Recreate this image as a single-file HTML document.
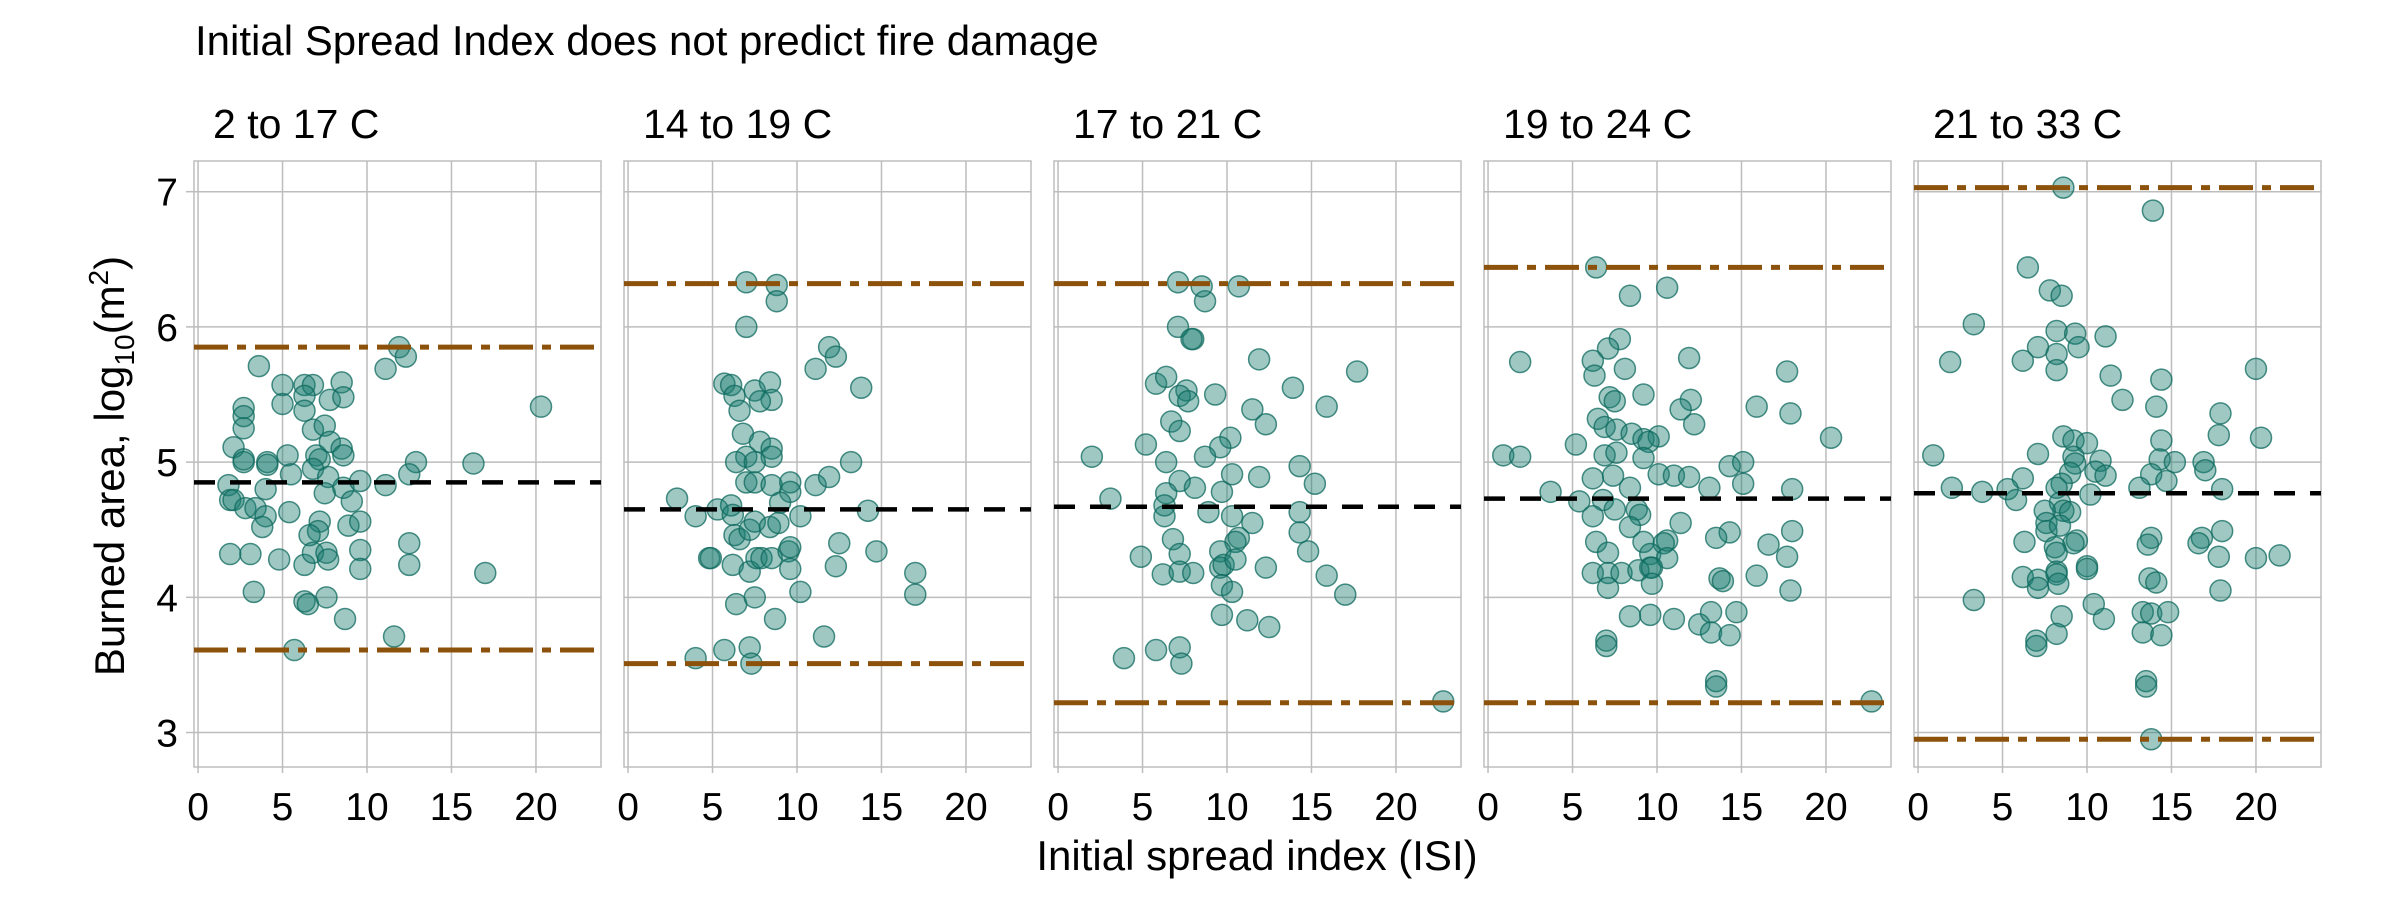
<!DOCTYPE html>
<html><head><meta charset="utf-8"><style>
html,body{margin:0;padding:0;background:#fff;}
svg{display:block;font-family:"Liberation Sans",sans-serif;}
</style></head><body>
<svg id="chart" width="2400" height="900" viewBox="0 0 2400 900" xmlns="http://www.w3.org/2000/svg">
<text x="195" y="55" font-size="42" fill="#000">Initial Spread Index does not predict fire damage</text>
<g id="panels"></g>
<text x="1257" y="870" font-size="42" text-anchor="middle">Initial spread index (ISI)</text>
<text font-size="42" text-anchor="middle" transform="translate(124,466) rotate(-90)">Burned area, log<tspan font-size="28" dy="10">10</tspan><tspan dy="-10">(m</tspan><tspan font-size="28" dy="-16">2</tspan><tspan dy="16">)</tspan></text>
</svg>
<script>
const facetLabels = ["2 to 17 C","14 to 19 C","17 to 21 C","19 to 24 C","21 to 33 C"];
const xTicks = [0,5,10,15,20];
const yTicks = [3,4,5,6,7];
const meanVals = [4.85,4.65,4.67,4.73,4.77];
const upperVals = [5.85,6.32,6.32,6.44,7.03];
const lowerVals = [3.61,3.51,3.22,3.22,2.95];
const pts1 = [[3.6,5.71],[5.0,5.57],[5.0,5.43],[6.3,5.57],[6.8,5.57],[6.3,5.49],[6.3,5.38],[8.5,5.59],[7.8,5.46],[8.6,5.48],[2.7,5.4],[2.7,5.34],[2.7,5.25],[2.1,5.11],[2.7,5.02],[2.7,5.0],[4.1,5.0],[4.1,4.98],[5.3,5.05],[5.5,4.91],[6.8,5.24],[7.5,5.27],[7.0,5.05],[7.2,5.02],[7.8,5.15],[8.5,5.1],[8.6,5.05],[6.8,4.95],[7.7,4.89],[7.5,4.77],[8.6,4.81],[9.6,4.86],[9.1,4.71],[11.1,4.83],[12.9,5.0],[12.5,4.91],[1.8,4.83],[1.9,4.72],[2.1,4.72],[2.8,4.66],[3.4,4.66],[4.0,4.6],[3.8,4.52],[4.0,4.8],[5.4,4.63],[7.2,4.56],[7.1,4.49],[6.6,4.46],[8.9,4.53],[9.6,4.56],[1.9,4.32],[3.1,4.32],[4.8,4.28],[6.3,4.24],[6.8,4.33],[7.6,4.33],[7.7,4.28],[9.6,4.35],[9.6,4.21],[12.5,4.4],[12.5,4.24],[3.3,4.04],[6.3,3.97],[6.5,3.95],[7.6,4.0],[8.7,3.84],[5.7,3.61],[11.6,3.71],[11.1,5.69],[11.9,5.85],[12.3,5.78],[16.3,4.99],[17.0,4.18],[20.3,5.41]];
const pts2 = [[7.0,6.33],[8.8,6.31],[8.8,6.19],[7.0,6.0],[5.7,5.58],[6.1,5.57],[6.3,5.49],[7.5,5.53],[8.4,5.59],[8.5,5.46],[7.8,5.45],[6.6,5.38],[6.8,5.21],[7.8,5.15],[8.5,5.1],[8.5,5.04],[7.0,5.04],[6.4,5.0],[7.5,5.0],[7.0,4.85],[7.5,4.85],[8.5,4.83],[9.6,4.85],[9.6,4.78],[9.0,4.7],[11.1,4.83],[11.9,4.89],[13.2,5.0],[11.1,5.69],[11.9,5.85],[12.3,5.78],[13.8,5.55],[2.9,4.73],[4.0,4.6],[5.3,4.65],[6.1,4.68],[6.2,4.61],[6.3,4.46],[6.6,4.43],[7.2,4.5],[7.5,4.56],[8.4,4.52],[8.9,4.55],[10.2,4.6],[14.2,4.64],[4.8,4.29],[4.9,4.29],[6.2,4.24],[7.2,4.19],[7.6,4.29],[7.9,4.29],[8.5,4.29],[9.5,4.34],[9.6,4.21],[9.6,4.37],[12.5,4.4],[12.3,4.23],[14.7,4.34],[17.0,4.18],[17.0,4.02],[6.4,3.95],[7.5,4.0],[10.2,4.04],[8.7,3.84],[11.6,3.71],[4.0,3.55],[5.7,3.61],[7.2,3.63],[7.3,3.51]];
const pts3 = [[10.7,6.3],[8.7,6.19],[8.0,5.91],[11.9,5.76],[17.7,5.67],[13.9,5.55],[9.3,5.5],[15.9,5.41],[11.5,5.39],[12.3,5.28],[10.2,5.18],[9.6,5.11],[8.7,5.04],[14.3,4.97],[10.3,4.91],[11.9,4.89],[15.2,4.84],[9.7,4.78],[8.9,4.63],[10.3,4.6],[11.5,4.55],[14.3,4.63],[14.3,4.48],[14.8,4.34],[10.7,4.44],[10.5,4.41],[9.6,4.34],[9.6,4.22],[9.8,4.24],[10.5,4.28],[12.3,4.22],[15.9,4.16],[17.0,4.02],[9.7,4.09],[10.3,4.04],[9.7,3.87],[11.2,3.83],[12.5,3.78],[22.8,3.23],[2.0,5.04],[3.1,4.73],[4.9,4.3],[5.2,5.13],[5.8,5.58],[6.4,5.63],[7.1,6.0],[7.9,5.91],[7.6,5.53],[7.2,5.49],[7.7,5.45],[6.7,5.3],[7.2,5.23],[6.4,5.0],[7.2,4.86],[6.4,4.77],[6.3,4.68],[6.3,4.6],[6.8,4.43],[7.2,4.32],[6.2,4.17],[7.2,4.19],[8.0,4.18],[3.9,3.55],[5.8,3.61],[7.2,3.63],[7.3,3.51],[8.1,4.81],[7.1,6.33],[8.5,6.3]];
const pts4 = [[6.4,6.44],[8.4,6.23],[10.6,6.29],[7.8,5.91],[7.1,5.84],[1.9,5.74],[6.2,5.75],[6.3,5.64],[8.1,5.69],[11.9,5.77],[17.7,5.67],[9.2,5.5],[7.2,5.48],[7.5,5.45],[12.0,5.46],[11.4,5.39],[12.2,5.28],[15.9,5.41],[17.9,5.36],[20.3,5.18],[6.5,5.32],[6.9,5.26],[7.6,5.24],[8.5,5.21],[9.2,5.17],[10.1,5.19],[9.5,5.15],[5.2,5.13],[0.9,5.05],[1.9,5.04],[6.9,5.05],[7.6,5.07],[9.2,5.03],[14.3,4.97],[15.1,5.0],[15.1,4.84],[10.1,4.91],[11.0,4.9],[11.9,4.89],[6.2,4.88],[7.4,4.9],[8.4,4.81],[13.1,4.81],[18.0,4.8],[3.7,4.78],[5.4,4.71],[6.8,4.72],[8.8,4.65],[7.5,4.65],[6.2,4.6],[9.0,4.61],[8.4,4.52],[11.4,4.55],[14.3,4.48],[13.5,4.44],[18.0,4.49],[6.4,4.41],[9.2,4.41],[10.6,4.42],[10.4,4.4],[16.6,4.39],[17.7,4.3],[7.1,4.33],[9.6,4.32],[10.6,4.29],[9.6,4.22],[6.2,4.18],[7.1,4.18],[7.9,4.18],[8.9,4.2],[9.7,4.22],[9.7,4.1],[7.1,4.07],[13.7,4.14],[13.9,4.12],[15.9,4.16],[17.9,4.05],[8.4,3.86],[9.6,3.87],[11.0,3.84],[12.5,3.8],[13.2,3.89],[13.2,3.74],[14.3,3.72],[14.7,3.89],[7.0,3.68],[7.0,3.64],[13.5,3.38],[13.5,3.34],[22.7,3.23]];
const pts5 = [[8.6,7.03],[13.9,6.86],[6.5,6.44],[7.8,6.27],[8.5,6.23],[3.3,6.02],[8.2,5.97],[9.3,5.95],[11.1,5.93],[9.5,5.85],[7.1,5.85],[8.2,5.8],[8.2,5.68],[1.9,5.74],[6.2,5.75],[20.0,5.69],[11.4,5.64],[14.4,5.61],[12.1,5.46],[14.1,5.41],[17.9,5.36],[17.8,5.2],[20.3,5.18],[8.6,5.19],[9.2,5.16],[10.0,5.14],[14.4,5.16],[7.1,5.06],[9.2,5.04],[9.3,4.99],[10.8,5.01],[14.3,5.02],[15.2,5.0],[16.9,5.0],[17.0,4.94],[0.9,5.05],[9.0,4.92],[10.5,4.93],[11.1,4.9],[13.8,4.91],[14.7,4.86],[6.2,4.88],[8.5,4.84],[8.2,4.81],[13.1,4.81],[18.0,4.8],[2.0,4.81],[3.8,4.78],[5.3,4.8],[10.2,4.76],[5.8,4.72],[8.4,4.7],[8.6,4.64],[9.0,4.63],[7.5,4.64],[7.6,4.55],[7.6,4.49],[8.4,4.53],[18.0,4.49],[16.8,4.44],[16.6,4.4],[6.3,4.41],[9.4,4.42],[9.2,4.4],[13.8,4.44],[13.6,4.39],[8.1,4.37],[8.2,4.33],[17.8,4.3],[20.0,4.29],[21.4,4.31],[10.0,4.23],[10.0,4.21],[8.2,4.19],[8.2,4.17],[6.2,4.15],[7.1,4.13],[8.3,4.1],[7.1,4.07],[13.7,4.14],[14.1,4.11],[17.9,4.05],[3.3,3.98],[10.4,3.95],[11.0,3.84],[8.5,3.86],[8.2,3.73],[13.3,3.89],[13.3,3.74],[13.8,3.88],[14.8,3.89],[14.4,3.72],[7.0,3.68],[7.0,3.64],[13.5,3.38],[13.5,3.34],[13.8,2.95]];
const allPts = [pts1,pts2,pts3,pts4,pts5];

const NS="http://www.w3.org/2000/svg";
const panelLeft0=194, panelStep=430, panelW=407, panelTop=161, panelBot=767;
const xMin=-0.24, xMax=23.85, yMin=2.745, yMax=7.227;
function xScale(p,v){return panelLeft0+p*panelStep+(v-xMin)/(xMax-xMin)*panelW;}
function yScale(v){return panelTop+(yMax-v)/(yMax-yMin)*(panelBot-panelTop);}
function mk(tag,attrs,parent){const e=document.createElementNS(NS,tag);for(const k in attrs)e.setAttribute(k,attrs[k]);parent.appendChild(e);return e;}
const root=document.getElementById('panels');
for(let p=0;p<5;p++){
  const g=mk('g',{},root);
  
  
  const L=panelLeft0+p*panelStep, R=L+panelW;
  const t=mk('text',{x:L+19,y:138,'font-size':41},g);t.textContent=facetLabels[p];
  
  
  xTicks.forEach(v=>{const x=xScale(p,v);
    const gl=mk('line',{x1:x,x2:x,y1:panelTop,y2:panelBot,stroke:'#bdbdbd','stroke-width':1.5},g);
    
    
    mk('line',{x1:x,x2:x,y1:panelBot,y2:panelBot+6,stroke:'#bdbdbd','stroke-width':1.5},g);
    const tl=mk('text',{x:x,y:820,'font-size':39,'text-anchor':'middle'},g);tl.textContent=v;
    
    
  });
  yTicks.forEach(v=>{const y=yScale(v);
    const gl=mk('line',{x1:L,x2:R,y1:y,y2:y,stroke:'#bdbdbd','stroke-width':1.5},g);
    
    
    if(p===0){
      mk('line',{x1:L-8,x2:L,y1:y,y2:y,stroke:'#bdbdbd','stroke-width':1.5},g);
      const tl=mk('text',{x:L-16,y:y+14,'font-size':39,'text-anchor':'end'},g);tl.textContent=v;
      
      
    }
  });
  const fr=mk('rect',{x:L,y:panelTop,width:panelW,height:panelBot-panelTop,fill:'none',stroke:'#bdbdbd','stroke-width':1.5},g);
  
  
  allPts[p].forEach(d=>{
    const c=mk('circle',{cx:xScale(p,d[0]),cy:yScale(d[1]),r:10.5,fill:'rgba(27,125,112,0.42)',stroke:'rgba(13,105,94,0.75)','stroke-width':1.5},g);
    
    
  });
  [[upperVals[p],'upper-limit-line'],[lowerVals[p],'lower-limit-line']].forEach(([v,n])=>{
    const l=mk('line',{x1:L,x2:R,y1:yScale(v),y2:yScale(v),stroke:'#8c520c','stroke-width':5,'stroke-dasharray':'34 9 9 9'},g);
    
    
  });
  const m=mk('line',{x1:L,x2:R,y1:yScale(meanVals[p]),y2:yScale(meanVals[p]),stroke:'#000','stroke-width':4.5,'stroke-dasharray':'21 15'},g);
  
  
}
</script>
</body></html>
